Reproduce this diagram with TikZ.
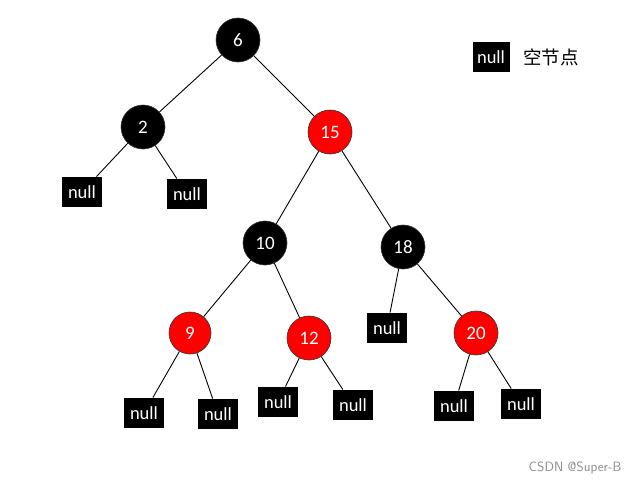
\documentclass[tikz,border=0pt]{standalone}
\usepackage{fontspec}
\setmainfont{Carlito}
\newfontfamily\cjk{Noto Sans CJK SC}
\usetikzlibrary{positioning}

\begin{document}
\begin{tikzpicture}[x=1pt, y=-1pt, line width=0.9pt,
    blk/.style={circle, fill=black, draw=black!80, line width=0.6pt, minimum size=44pt,
                inner sep=0pt, text=white, font=\fontsize{19}{19}\selectfont},
    rd/.style={blk, fill=red},
    nil/.style={fill=black, text=white, minimum width=40pt, minimum height=30pt,
                inner sep=0pt, font=\fontsize{18.5}{18.5}\selectfont}]
  \useasboundingbox (0,0) rectangle (637,485);

  % 内部结点
  \node[blk] (n6)  at (238, 40)  {6};
  \node[blk] (n2)  at (143, 127) {2};
  \node[rd]  (n15) at (330, 132) {15};
  \node[blk] (n10) at (265, 243) {10};
  \node[blk] (n18) at (403, 247) {18};
  \node[rd, minimum size=42pt] (n9)  at (190, 333) {9};
  \node[rd]  (n12) at (309, 338) {12};
  \node[rd]  (n20) at (476, 333) {20};

  % 叶子 null
  \node[nil] (a) at (82, 192)  {null};
  \node[nil] (b) at (187, 194) {null};
  \node[nil] (c) at (144, 413) {null};
  \node[nil] (d) at (218, 414) {null};
  \node[nil] (e) at (278, 402) {null};
  \node[nil] (f) at (353, 405) {null};
  \node[nil] (g) at (387, 328) {null};
  \node[nil] (h) at (454, 406) {null};
  \node[nil] (i) at (521, 404) {null};

  \draw (n6) -- (n2);
  \draw (n6) -- (n15);
  \draw (n2) -- (a);
  \draw (n2) -- (b);
  \draw (n15) -- (n10);
  \draw (n15) -- (n18);
  \draw (n10) -- (n9);
  \draw (n10) -- (n12);
  \draw (n9) -- (c);
  \draw (n9) -- (d);
  \draw (n12) -- (e);
  \draw (n12) -- (f);
  \draw (n18) -- (g);
  \draw (n18) -- (n20);
  \draw (n20) -- (h);
  \draw (n20) -- (i);

  % 图例
  \node[nil, minimum width=37pt] (key) at (491, 57) {null};
  \node[right=13pt of key, inner sep=0pt, font=\cjk\fontsize{18.5}{18.5}\selectfont] (keytxt) {空节点};

  \node[text=black!45, font=\sffamily\fontsize{13.5}{13.5}\selectfont] (mark) at (575, 468) {CSDN @Super-B};
\end{tikzpicture}
\end{document}
